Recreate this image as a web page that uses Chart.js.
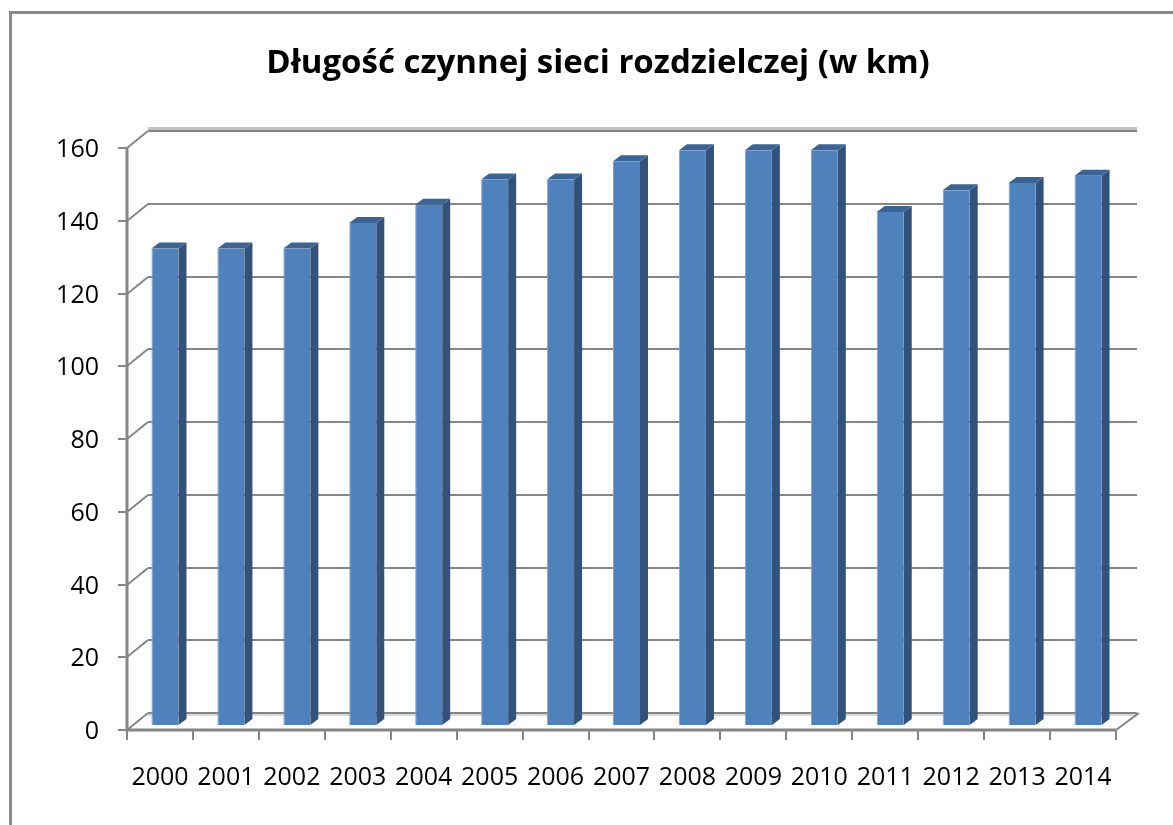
<!DOCTYPE html>
<html lang="pl">
<head>
<meta charset="utf-8">
<title>Długość czynnej sieci rozdzielczej</title>
<script src="https://cdn.jsdelivr.net/npm/chart.js@4.4.1/dist/chart.umd.min.js"></script>
<style>
  html, body { margin: 0; padding: 0; background: #fff; }
  canvas { display: block; }
</style>
</head>
<body>
<canvas id="siecChart" width="1173" height="825"></canvas>
<script>
// dane: długość sieci w km, rok po roku
const lata      = ['2000', '2001', '2002', '2003', '2004', '2005', '2006', '2007',
                   '2008', '2009', '2010', '2011', '2012', '2013', '2014'];
const dlugoscKm = [131, 131, 131, 138, 143, 150, 150, 155, 158, 158, 158, 141, 147, 149, 151];
const podzialkaY = [0, 20, 40, 60, 80, 100, 120, 140, 160];

const tytul = 'Długość czynnej sieci rozdzielczej (w km)';

const niebieski  = '#4F81BD';
const bokSlupka  = '#32527B';
const gora       = '#3B6394';
const szary      = '#868686';
const jasnySzary = '#C4C4C4';

// pseudo-3D: głębokość ściany tylnej i słupków (px)
const sciana = { dx: 21, dy: -17 };
const slupek = { dx: 8, dy: -6 };
const przesuniecie = { dx: 5, dy: -5 };

const font = "'Open Sans', sans-serif";

// ── ramka, tytuł, ściana tylna, osie ──
const ramka3d = {
    id: 'ramka3d',
    beforeDraw(chart) {
        const ctx = chart.ctx;
        ctx.save();
        ctx.fillStyle = '#8A8A8A';
        ctx.fillRect(9, 11, chart.width, 3);
        ctx.fillRect(9, 11, 3, chart.height);

        // tytuł nad wykresem (wyśrodkowany nad ścianą)
        ctx.fillStyle = '#000';
        ctx.font = `bold 33px ${font}`;
        ctx.textAlign = 'center';
        ctx.textBaseline = 'middle';
        ctx.fillText(tytul, 598, 64);
        ctx.restore();
    },
    beforeDatasetsDraw(chart) {
        const ctx = chart.ctx;
        const { left, right, bottom } = chart.chartArea;
        const y = chart.scales.y;

        ctx.save();
        ctx.lineWidth = 2;
        ctx.strokeStyle = szary;

        podzialkaY.forEach((v, i) => {
            const py = Math.round(y.getPixelForValue(v));
            const by = py + sciana.dy;
            if (i === podzialkaY.length - 1) {
                // górna krawędź ściany
                ctx.save();
                ctx.strokeStyle = jasnySzary;
                ctx.lineWidth = 3;
                ctx.beginPath();
                ctx.moveTo(left + sciana.dx, by - 2.5);
                ctx.lineTo(right + sciana.dx, by - 2.5);
                ctx.stroke();
                ctx.restore();
            }
            if (i === 0) {
                ctx.save();
                ctx.strokeStyle = '#D9D9D9';
                ctx.lineWidth = 2;
                ctx.beginPath();
                ctx.moveTo(left + sciana.dx, by + 2);
                ctx.lineTo(right + sciana.dx, by + 2);
                ctx.stroke();
                ctx.restore();
            }
            ctx.beginPath();
            ctx.moveTo(left + sciana.dx, by);
            ctx.lineTo(right + sciana.dx, by);
            ctx.moveTo(left, py);
            ctx.lineTo(left + sciana.dx, by);
            ctx.moveTo(left - 9, py);
            ctx.lineTo(left, py);
            ctx.stroke();
        });

        // oś pionowa i pozioma
        ctx.lineWidth = 3;
        ctx.beginPath();
        ctx.moveTo(left, Math.round(y.getPixelForValue(160)));
        ctx.lineTo(left, bottom);
        ctx.lineTo(right, bottom);
        ctx.stroke();

        ctx.lineWidth = 2;
        ctx.beginPath();
        ctx.moveTo(right, bottom);
        ctx.lineTo(right + sciana.dx + 2, bottom + sciana.dy);
        const krok = (right - left) / lata.length;
        for (let i = 0; i <= lata.length; i++) {
            const px = Math.round(left + i * krok);
            ctx.moveTo(px, bottom);
            ctx.lineTo(px, bottom + 10);
        }
        ctx.stroke();
        ctx.restore();

        // słupki stoją trochę w głębi podłogi
        ctx.save();
        ctx.translate(przesuniecie.dx, przesuniecie.dy);
    },
    afterDatasetsDraw(chart) {
        const ctx = chart.ctx;
        chart.getDatasetMeta(0).data.forEach(bar => {
            const l = bar.x - bar.width / 2;
            const r = bar.x + bar.width / 2;
            ctx.fillStyle = bokSlupka;
            ctx.beginPath();
            ctx.moveTo(r, bar.y);
            ctx.lineTo(r + slupek.dx, bar.y + slupek.dy);
            ctx.lineTo(r + slupek.dx, bar.base + slupek.dy);
            ctx.lineTo(r, bar.base);
            ctx.closePath();
            ctx.fill();

            ctx.fillStyle = gora;
            ctx.beginPath();
            ctx.moveTo(l, bar.y);
            ctx.lineTo(l + slupek.dx, bar.y + slupek.dy);
            ctx.lineTo(r + slupek.dx, bar.y + slupek.dy);
            ctx.lineTo(r, bar.y);
            ctx.closePath();
            ctx.fill();
        });
        ctx.restore();
    }
};

new Chart(document.getElementById('siecChart'), {
    type: 'bar',
    data: {
        labels: lata,
        datasets: [{
            data:            dlugoscKm,
            backgroundColor: niebieski,
            borderColor:     '#7FA2CF',
            borderWidth:     { left: 1, top: 0, right: 0, bottom: 0 },
            borderSkipped:   false,
            barPercentage:   0.41,
            categoryPercentage: 1,
        }]
    },
    options: {
        responsive: false,
        animation: false,
        layout: { padding: { left: 0, right: 57, top: 148, bottom: 0 } },
        plugins: {
            legend:  { display: false },
            tooltip: { enabled: false },
            title:   { display: false }
        },
        scales: {
            x: {
                grid:   { display: false, drawTicks: false, tickLength: 0 },
                border: { display: false },
                ticks:  { color: '#000', font: { family: font, size: 25 }, padding: 33, maxRotation: 0, autoSkip: false },
                afterFit: s => { s.height = 95; }
            },
            y: {
                min: 0,
                max: 160,
                grid:   { display: false, drawTicks: false, tickLength: 0 },
                border: { display: false },
                ticks:  { color: '#000', font: { family: font, size: 25 }, padding: 28, labelOffset: 2 },
                afterBuildTicks: s => { s.ticks = podzialkaY.map(v => ({ value: v })); },
                afterFit: s => { s.width = 127; }
            }
        }
    },
    plugins: [ramka3d]
});
</script>
</body>
</html>
